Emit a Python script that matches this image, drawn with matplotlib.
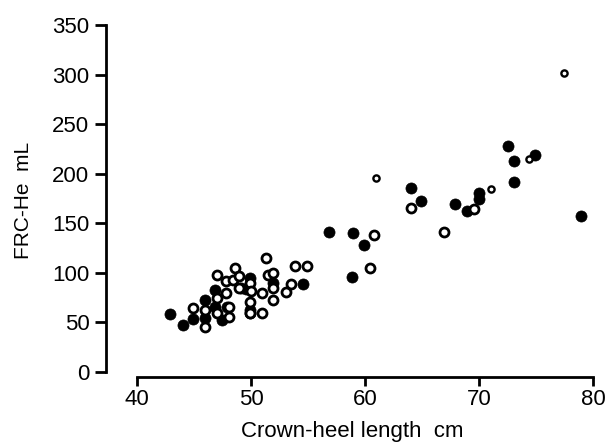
import matplotlib
matplotlib.use('Agg')
import matplotlib.pyplot as plt

# ---------- data ----------
# filled circles
filled_x = [42.9, 44.0, 44.9, 45.9, 45.9, 46.8, 46.8, 47.4, 47.9, 49.1,
            49.5, 49.9, 49.9, 49.9, 51.9, 54.5, 56.8, 58.9, 58.8, 59.9,
            64.0, 64.9, 67.9, 68.9, 70.0, 70.0, 72.5, 73.0, 73.0, 74.9, 78.9]
filled_y = [59, 47, 53, 73, 54, 83, 66, 52, 66, 84.5,
            83.5, 94.5, 62.6, 60, 89.5, 88.8, 141, 140, 96, 128,
            186, 173, 170, 162.5, 181, 175, 228, 212.6, 192, 219, 157.5]

# open circles
open_x = [44.9, 45.9, 45.9, 47.0, 47.0, 47.0, 47.8, 48.0, 48.0, 47.8,
          48.4, 48.6, 48.9, 48.9, 49.9, 50.0, 50.9, 51.3, 51.5, 51.9,
          51.9, 51.9, 53.0, 53.5, 53.8, 54.9, 49.9, 50.9, 49.9, 60.4,
          60.8, 64.0, 66.9, 69.5]
open_y = [65, 63, 45.7, 98, 75, 60, 79.4, 55.8, 66, 91.8,
          92.8, 104.6, 97, 84.5, 89.5, 82, 79.4, 114.7, 98, 99.6,
          84.5, 72.7, 81, 88.8, 107, 107, 71, 60, 59.5, 104.6,
          138.6, 165.2, 141.3, 164.8]

# small open circles
small_x = [60.9, 71.0, 74.4, 77.4]
small_y = [195.4, 185, 215, 302]

x_ticks = [40, 50, 60, 70, 80]
y_ticks = [0, 50, 100, 150, 200, 250, 300, 350]

plt.rcParams['font.family'] = ['Liberation Sans Narrow', 'Liberation Sans', 'DejaVu Sans']

fig = plt.figure(figsize=(6.05, 4.46), dpi=100)
W, H = 605, 446
ax = fig.add_axes([106 / W, (H - 377.3) / H, (599 - 106) / W, (377.3 - 23.2) / H])

ax.scatter(filled_x, filled_y, s=64, c='black', edgecolors='black', linewidths=0.5, zorder=3)
ax.scatter(open_x, open_y, s=42, facecolors='white', edgecolors='black', linewidths=2, zorder=4)
ax.scatter(small_x, small_y, s=20, facecolors='white', edgecolors='black', linewidths=1.7, zorder=4)

ax.set_xlim(37.25, 80.5)
ax.set_ylim(-5.35, 352)

ax.spines['top'].set_visible(False)
ax.spines['right'].set_visible(False)
ax.spines['left'].set_linewidth(2)
ax.spines['bottom'].set_linewidth(2)
ax.spines['left'].set_bounds(0, 350)
ax.spines['bottom'].set_bounds(40, 80)

ax.set_xticks(x_ticks)
ax.set_yticks(y_ticks)
ax.tick_params(axis='both', width=2, labelsize=16)
ax.tick_params(axis='y', length=8, pad=4)
ax.tick_params(axis='x', length=6.5, pad=2)

ax.set_xlabel('Crown-heel length  cm', fontsize=16, labelpad=8)
ax.set_ylabel('FRC-He  mL', fontsize=15, labelpad=14)

plt.savefig('out.png', dpi=100, facecolor='white')
